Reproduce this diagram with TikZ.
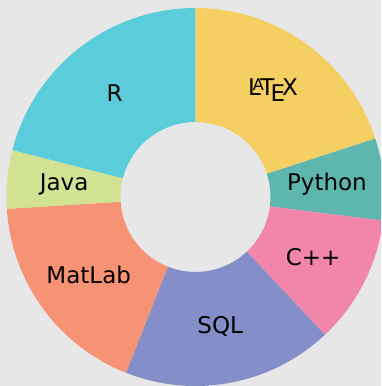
\documentclass[tikz,border=0pt]{standalone}
\usepackage{fontspec}
\setmainfont{DejaVu Sans}
\definecolor{bgc}{RGB}{231,231,231}
\definecolor{cR}{RGB}{91,205,218}
\definecolor{cLaTeX}{RGB}{245,207,98}
\definecolor{cPython}{RGB}{93,183,174}
\definecolor{cCpp}{RGB}{242,133,170}
\definecolor{cSQL}{RGB}{132,142,200}
\definecolor{cMatLab}{RGB}{245,147,116}
\definecolor{cJava}{RGB}{210,226,147}
\begin{document}
\begin{tikzpicture}[x=1pt,y=1pt,
  lbl/.style={inner sep=0pt,anchor=center,font=\fontsize{23}{27}\selectfont}]
\useasboundingbox (-195.5,-189) rectangle (185.5,197);
\clip (-195.5,-189) rectangle (185.5,197);
\fill[bgc] (-195.5,-189) rectangle (185.5,197);
\def\Ro{189}
\def\Ri{75}
\def\Rm{132}
\foreach \a/\b/\c/\t/\n in {90/18/cLaTeX/\LaTeX/latex,
  18/-7.2/cPython/Python/python,
  -7.2/-46.8/cCpp/C++/cpp,
  -46.8/-111.6/cSQL/SQL/sql,
  -111.6/-176.4/cMatLab/MatLab/matlab,
  -176.4/-194.4/cJava/Java/java,
  -194.4/-270/cR/R/r}{
  \fill[\c] (\a:\Ro) arc[start angle=\a, end angle=\b, radius=\Ro]
    -- (\b:\Ri) arc[start angle=\b, end angle=\a, radius=\Ri] -- cycle;
  \node[lbl] (\n) at ({(\a+\b)/2}:\Rm) {\t};
}
\end{tikzpicture}
\end{document}
